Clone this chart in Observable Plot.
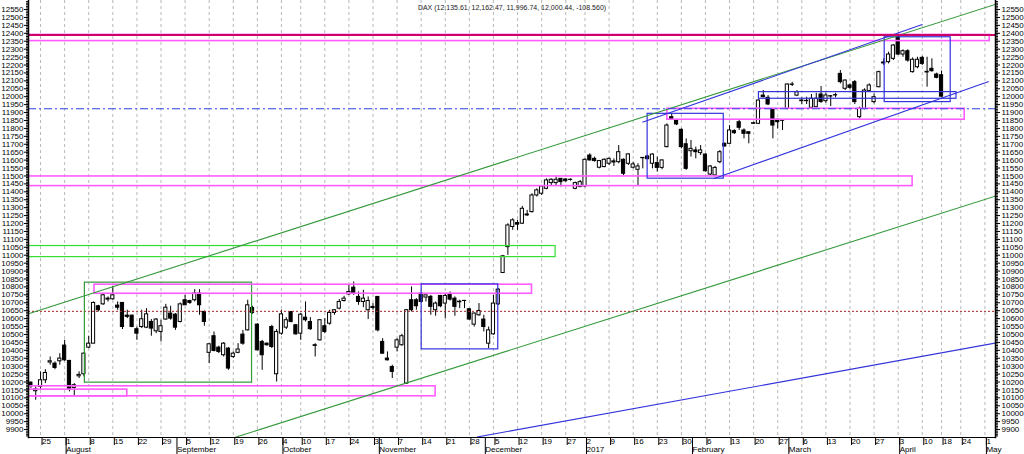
<!DOCTYPE html>
<html><head><meta charset="utf-8">
<script src="https://cdn.jsdelivr.net/npm/d3@7"></script>
<script src="https://cdn.jsdelivr.net/npm/@observablehq/plot@0.6"></script>
<style>
html,body{margin:0;padding:0;background:#fff;}
#chart svg{display:block;}
</style></head><body><div id="chart"></div>
<script>
// Daily DAX candles, index 0 = 21 Jul 2016 (trading days), last = 18 Apr 2017
const open = [10196,10142,10169,10211,10323,10316,10331,10430,10333,10163, 10236,10249,10417,10442,10678,10690,10720,10722,10682,10699, 10619,10619,10533,10547,10543,10579,10520,10516,10594,10632, 10625,10579,10716,10711,10716,10758,10642,10384,10489,10417, 10369,10411,10358,10384,10499,10526,10667,10562,10453,10442, 10547,10249,10505,10543,10642,10558,10505,10606,10579,10432, 10463,10552,10568,10636,10663,10711,10753,10795,10737,10705, 10653,10674,10737,10453,10348,10295,10417,10432,10190,10716, 10716,10758,10733,10737,10653,10743,10695,10751,10726,10707, 10712,10659,10562,10621,10594,10442,10501,10690,10888,11051, 11178,11203,11199,11257,11272,11377,11388,11419,11455,11455, 11482,11478,11476,11419,11430,11434,11629,11608,11552,11556, 11577,11592,11587,11602,11577,11552,11539,11612,11623,11577, 11581,11551,11682,11871,11850,11791,11700,11656,11661,11644, 11635,11509,11503,11587,11703,11703,11783,11839,11787,11776, 11829,11829,12007,11993,11923,11854,11848,11923,12077,12007, 11976,11972,11930,11934,12014,11972,12003,12008,12144,12050, 12071,12092,11871,11924,12035,11966,12060,12216,12218,12239, 12380,12266,12287,12155,12186,12245,12157,12176,12140,12135.61];
const high = [10201,10169,10264,10278,10358,10327,10379,10463,10337,10190, 10264,10384,10489,10705,10684,10758,10737,10804,10705,10699, 10653,10621,10547,10653,10663,10594,10600,10590,10690,10678, 10632,10699,10747,10716,10783,10783,10648,10442,10516,10426, 10449,10417,10390,10442,10526,10716,10678,10568,10463,10447, 10558,10531,10653,10606,10642,10564,10632,10705,10606,10442, 10594,10600,10653,10657,10720,10741,10810,10831,10768,10779, 10737,10695,10737,10474,10390,10306,10474,10501,10657,10800, 10726,10758,10747,10747,10705,10747,10758,10768,10737,10716, 10712,10663,10636,10695,10621,10547,10747,10789,10999,11199, 11230,11220,11308,11283,11388,11419,11440,11482,11482,11493, 11482,11482,11482,11461,11472,11608,11640,11619,11598,11608, 11613,11608,11692,11608,11640,11587,11577,11616,11629,11640, 11619,11602,11829,11892,11854,11797,11734,11724,11682,11692, 11640,11566,11560,11661,11707,11818,11791,11854,11797,11776, 11839,11980,12039,12007,11923,11860,11854,12081,12091,12039, 11993,11997,12014,12022,12064,12022,12008,12022,12165,12106, 12081,12102,11934,12050,12081,12018,12161,12239,12281,12329, 12397,12296,12296,12245,12249,12254,12249,12239,12149,12162.47];
const low = [10160,10085,10152,10190,10306,10278,10306,10331,10138,10110, 10222,10232,10411,10442,10642,10684,10705,10716,10653,10531, 10600,10543,10463,10537,10537,10489,10505,10453,10590,10590, 10526,10573,10684,10690,10705,10621,10552,10316,10390,10379, 10358,10274,10348,10379,10432,10522,10627,10396,10274,10426, 10411,10200,10495,10531,10573,10495,10463,10579,10526,10358, 10459,10505,10558,10621,10655,10705,10747,10747,10684,10669, 10594,10653,10516,10375,10333,10222,10390,10426,10186,10642, 10653,10699,10705,10621,10615,10669,10600,10711,10615,10663, 10663,10590,10547,10615,10516,10411,10495,10684,10884,10999, 11157,11157,11194,11245,11266,11367,11377,11413,11440,11440, 11430,11461,11467,11413,11426,11426,11594,11587,11545,11552, 11566,11560,11577,11503,11566,11545,11440,11545,11602,11545, 11524,11539,11677,11850,11818,11671,11535,11619,11608,11629, 11524,11503,11493,11577,11682,11699,11762,11787,11734,11703, 11825,11825,11993,11944,11734,11797,11787,11917,12064,12001, 11951,11951,11924,11930,11959,11959,11938,11993,12081,12039, 12043,11951,11861,11917,12027,11955,12056,12197,12207,12228, 12260,12249,12218,12149,12176,12197,12060,12155,12113,11996.74];
const close = [10173,10154,10211,10257,10331,10289,10348,10337,10152,10180, 10245,10379,10442,10699,10653,10747,10726,10747,10669,10547, 10611,10547,10505,10596,10627,10537,10594,10552,10669,10600, 10543,10690,10684,10699,10758,10684,10579,10438,10396,10390, 10442,10285,10379,10405,10442,10684,10636,10400,10369,10432, 10421,10516,10627,10590,10579,10501,10625,10590,10533,10428, 10590,10516,10636,10653,10705,10726,10768,10758,10705,10726, 10711,10667,10526,10379,10337,10264,10463,10489,10653,10653, 10678,10705,10747,10674,10695,10678,10743,10720,10674,10703, 10711,10594,10632,10648,10547,10526,10695,10783,10993,11188, 11220,11193,11293,11251,11377,11409,11434,11472,11476,11476, 11461,11467,11475,11455,11461,11602,11598,11594,11594,11602, 11608,11585,11650,11514,11636,11573,11560,11614,11606,11635, 11551,11598,11818,11856,11825,11682,11545,11671,11650,11661, 11530,11560,11551,11650,11686,11787,11770,11804,11766,11766, 11833,11976,11997,11951,11818,11839,11852,12077,12075,12028, 11972,11974,11987,11987,11966,12008,12001,12010,12092,12102, 12056,11966,11924,12039,12071,11997,12155,12210,12266,12323, 12266,12287,12228,12233,12233,12207,12153,12161,12119,12000.44];

// x axis (trading-day index) tick labels
const weekTickDay = [2,7,12,17,22,27,32,37,42,47,52,56,61,66,71,76,81,86,91,96,101,106,111,115,120,125,130,135,140,145,150,155,160,165,170,175,180,185,189,193,198];
const weekTickLabel = ["25","1","8","15","22","29","5","12","19","26","4","10","17","24","31","7","14","21","28","5","12","19","27","2","9","16","23","30","6","13","20","27","6","13","20","27","3","10","18","24","1"];
const monthTickDay = [7,30,52,72,94,115,137,157,180,198];
const monthTickLabel = ["August","September","October","November","December","2017","February","March","April","May"];

// drawn zones (boxes)
const zoneX1   = [-0.6, 132.1, -0.6, -0.6, 11.2, 13.2, -0.6, -0.6, 81.1, 128.0, 151.1, 177.2];
const zoneX2   = [199.0, 193.8, 183.0, 108.9, 45.9, 104.0, 84.0, 20.0, 97.0, 143.8, 192.1, 190.9];
const zoneLow  = [12351, 11855, 11436, 10988, 10196, 10757, 10110, 10110, 10406, 11483, 11987, 11966];
const zoneHigh = [12390, 11924, 11497, 11058, 10827, 10814, 10173, 10152, 10816, 11892, 12029, 12375];
const zoneKind = ["pink","pink","pink","lime","green","pink","pink","pink","blue","blue","blue","blue"];

// trend lines
const trendX1 = [-0.5, 42.3, 92.6, 126.9, 141.7];
const trendY1 = [10631, 9850, 9853, 11839, 11483];
const trendX2 = [200.2, 200.2, 200.2, 185.0, 198.8];
const trendY2 = [12583, 11373, 10446, 12455, 12096];
const trendKind = ["green","green","blue","blue","blue"];

// horizontal levels
const levelValue = [12390, 11924, 10646];
const levelKind = ["red","bluedash","reddot"];

const title = "DAX (12,135.61, 12,162.47, 11,996.74, 12,000.44, -108.560)";

const colors = {pink:"#ff5cff", lime:"#33dd33", green:"#33993a", blue:"#3333dd", red:"#cc0066", bluedash:"#3340ee", reddot:"#aa2020"};

const candles = open.map((o,i)=>({day:i, open:o, high:high[i], low:low[i], close:close[i]}));
const zones = zoneX1.map((x,i)=>({x1:x, x2:zoneX2[i], y1:zoneLow[i], y2:zoneHigh[i], kind:zoneKind[i]}));
const trends = trendX1.map((x,i)=>({x1:x, y1:trendY1[i], x2:trendX2[i], y2:trendY2[i], kind:trendKind[i]}));
const levels = levelValue.map((v,i)=>({v, kind:levelKind[i]}));
const weekMap = new Map(weekTickDay.map((d,i)=>[d, weekTickLabel[i]]));
const monthMap = new Map(monthTickDay.map((d,i)=>[d, monthTickLabel[i]]));

const yTicks = d3.range(9900, 12551, 50);
const yMinor = d3.range(9860, 12601, 10);

const chart = Plot.plot({
  width: 1024, height: 454,
  marginLeft: 28, marginRight: 29, marginTop: 0, marginBottom: 17,
  style: {fontFamily: "'Liberation Sans', Arial, sans-serif", fontSize: "8px", background: "#fff", color: "#000"},
  x: {domain: [-0.5, 200.2], axis: null},
  y: {domain: [9850, 12607], axis: null},
  marks: [
    Plot.ruleX(weekTickDay, {x: d=>d, stroke: "#b8b8b8", strokeDasharray: "3,3"}),
    Plot.ruleX(candles, {x: "day", y1: "low", y2: "high", stroke: "#000", strokeWidth: 1}),
    Plot.rect(candles, {x1: d=>d.day-0.33, x2: d=>d.day+0.33, y1: "open", y2: "close",
      fill: d=> d.close >= d.open ? "#fff" : "#000", stroke: "#000", strokeWidth: 1}),
    Plot.ruleY(levels.filter(d=>d.kind==="reddot"), {y: "v", stroke: colors.reddot, strokeDasharray: "2,2", strokeWidth: 1}),
    Plot.rect(zones, {x1: "x1", x2: "x2", y1: "y1", y2: "y2", fill: "none",
      stroke: d=>colors[d.kind], strokeWidth: d=> d.kind==="pink" ? 1.6 : 1.2, clip: true}),
    Plot.link(trends, {x1: "x1", y1: "y1", x2: "x2", y2: "y2", stroke: d=>colors[d.kind], strokeWidth: 1.1, clip: true}),
    Plot.ruleY(levels.filter(d=>d.kind==="bluedash"), {y: "v", stroke: colors.bluedash, strokeDasharray: "8,3,2,3", strokeWidth: 1.2}),
    Plot.ruleY(levels.filter(d=>d.kind==="red"), {y: "v", stroke: colors.red, strokeWidth: 2}),
    Plot.frame({anchor: "left", strokeWidth: 1.5}),
    Plot.frame({anchor: "right", strokeWidth: 1.5}),
    Plot.frame({anchor: "bottom", strokeWidth: 1.2}),
    Plot.axisY({anchor: "left", ticks: yMinor, tickSize: 2, tickFormat: () => "", label: null}),
    Plot.axisY({anchor: "right", ticks: yMinor, tickSize: 2, tickFormat: () => "", label: null}),
    Plot.axisY({anchor: "left", ticks: yTicks, tickSize: 4, tickPadding: 1, tickFormat: d => String(d), label: null, fontSize: 8}),
    Plot.axisY({anchor: "right", ticks: yTicks, tickSize: 4, tickPadding: 2, tickFormat: d => String(d), label: null, fontSize: 8}),
    Plot.axisX({anchor: "bottom", ticks: weekTickDay, tickSize: 8, tickPadding: -7, textAnchor: "start", dx: 1.5,
      tickFormat: d => weekMap.get(d), label: null, fontSize: 8}),
    Plot.axisX({anchor: "bottom", ticks: monthTickDay, tickSize: 17, tickPadding: -8, textAnchor: "start", dx: 1.5,
      tickFormat: d => monthMap.get(d), label: null, fontSize: 8}),
    Plot.text([title], {text: d=>d, frameAnchor: "top", dy: 5, fontSize: 7, fill: "#222"})
  ]
});
document.getElementById("chart").appendChild(chart);
</script></body></html>
